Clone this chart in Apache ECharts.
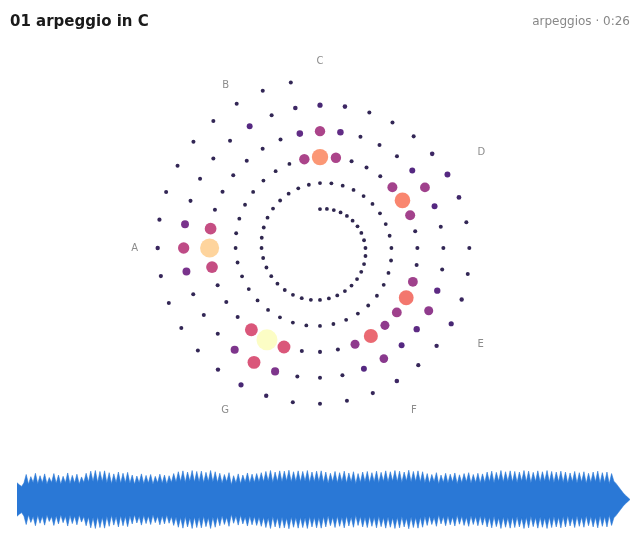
<!DOCTYPE html>
<html><head><meta charset="utf-8">
<script src="https://cdn.jsdelivr.net/npm/echarts/dist/echarts.min.js"></script>
<style>html,body{margin:0;padding:0;background:#fff}#c{width:640px;height:560px}</style>
</head><body><div id="c"></div>
<script>
// pitch-class tick labels (one per semitone, 30 degrees apart)
const noteLabels = ['C','','D','','E','F','','G','','A','','B'];
const binsPerOctave = 36;
// chroma energy per bin, one octave (36 bins, 10 deg each) per line
const chromaOct0 = [0.11,0.11,0.11,0.11,0.11,0.11,0.11,0.11,0.11,0.11,0.11,0.11,0.11,0.11,0.11,0.11,0.11,0.11,0.11,0.11,0.11,0.11,0.11,0.11,0.11,0.11,0.11,0.11,0.11,0.11,0.11,0.11,0.11,0.11,0.11,0.11];
const chromaOct1 = [0.11,0.11,0.11,0.11,0.11,0.11,0.11,0.11,0.11,0.11,0.11,0.11,0.11,0.11,0.11,0.11,0.11,0.11,0.11,0.11,0.11,0.11,0.11,0.11,0.11,0.11,0.11,0.11,0.11,0.11,0.11,0.11,0.11,0.11,0.11,0.45];
const chromaOct2 = [0.76,0.45,0.12,0.12,0.12,0.43,0.72,0.43,0.12,0.12,0.12,0.42,0.68,0.42,0.38,0.64,0.38,0.12,0.12,0.12,0.58,1.0,0.58,0.12,0.12,0.12,0.52,0.9,0.52,0.12,0.12,0.12,0.12,0.12,0.12,0.25];
const chromaOct3 = [0.45,0.25,0.12,0.12,0.12,0.22,0.42,0.22,0.12,0.12,0.12,0.24,0.38,0.24,0.22,0.36,0.22,0.12,0.12,0.12,0.33,0.58,0.33,0.12,0.12,0.12,0.32,0.5,0.32,0.12,0.12,0.12,0.12,0.22,0.12,0.15];
const chromaOct4 = [0.18,0.15,0.12,0.12,0.12,0.15,0.22,0.16,0.12,0.12,0.12,0.14,0.18,0.14,0.13,0.15,0.13,0.12,0.12,0.12,0.14,0.18,0.14,0.12,0.12,0.12,0.13,0.14,0.13,0.12,0.12,0.12,0.12,0.12,0.12,0.12];

// waveform envelope: spike peaks and the troughs between them (amplitude 0..1)
const wavePeaks = [0.82,0.75,0.86,0.78,0.84,0.72,0.85,0.8,0.76,0.87,0.79,0.83,0.74,0.86,
  0.93,0.95,0.92,0.94,
  0.88,0.84,0.9,0.86,0.89,
  0.8,0.77,0.84,0.79,0.82,0.76,0.83,0.8,0.78,0.85,
  0.91,0.94,0.9,0.95,0.92,0.93,0.89,0.95,0.91,
  0.86,0.82,0.88,0.78,0.84,0.8,0.87,0.83,0.85,0.88,
  0.92,0.95,0.9,0.94,0.93,0.96,0.91,0.94,0.92,0.95,0.9,0.93,0.94,
  0.9,0.86,0.92,0.88,0.93,0.87,0.91,0.85,0.9,0.92,0.88,0.93,0.89,
  0.94,0.91,0.95,0.93,0.9,0.96,0.92,0.94,0.91,
  0.85,0.82,0.88,0.8,0.86,0.83,0.87,0.81,0.85,0.88,0.82,0.86,0.84,
  0.9,0.93,0.89,0.95,0.91,0.94,0.92,0.9,0.95,0.93,0.89,0.94,0.91,0.95,0.92,0.9,0.93,
  0.9,0.87,0.92,0.88,0.91,0.86,0.9,0.93,0.88,0.9,0.85];
const waveTroughs = [0.54,0.5,0.56,0.52,0.55,0.51,0.56,0.53,0.5,0.55,0.52,0.54,0.51,0.56,
  0.57,0.59,0.56,0.58,
  0.55,0.52,0.56,0.53,0.55,
  0.53,0.5,0.55,0.52,0.54,0.5,0.55,0.53,0.51,0.56,
  0.57,0.59,0.56,0.6,0.57,0.58,0.55,0.59,0.57,
  0.56,0.53,0.58,0.48,0.54,0.52,0.57,0.54,0.56,0.58,
  0.58,0.6,0.56,0.59,0.58,0.61,0.57,0.59,0.58,0.6,0.56,0.58,0.59,
  0.56,0.53,0.58,0.55,0.58,0.54,0.57,0.52,0.56,0.58,0.55,0.58,0.55,
  0.59,0.57,0.6,0.58,0.56,0.61,0.57,0.59,0.57,
  0.55,0.53,0.58,0.51,0.56,0.54,0.57,0.52,0.55,0.58,0.53,0.56,0.54,
  0.56,0.58,0.55,0.6,0.57,0.59,0.57,0.56,0.6,0.58,0.55,0.59,0.57,0.6,0.57,0.56,0.58,
  0.56,0.53,0.58,0.54,0.57,0.53,0.56,0.58,0.54,0.56,0.52];
const waveStart = [0.55, 0.48, 0.43];
const waveEnd = [0.6, 0.52, 0.42, 0.32, 0.22, 0.14, 0.07, 0];

const magma = ['#000004','#140e36','#3b0f70','#641a80','#8c2981','#b73779','#de4968','#f7705c','#fe9f6d','#fecf92','#fcfdbf'];

const chroma = [].concat(chromaOct0, chromaOct1, chromaOct2, chromaOct3, chromaOct4);
const scatterData = chroma.map((v, i) => [i / binsPerOctave, (i % binsPerOctave) * 360 / binsPerOctave, v]);

const wave = waveStart.slice();
for (let i = 0; i < wavePeaks.length; i++) { wave.push(waveTroughs[i]); wave.push(wavePeaks[i]); }
waveEnd.forEach(v => wave.push(v));
const waveX = wave.map((_, i) => i);
const blue = '#2a78d6';

const chart = echarts.init(document.getElementById('c'), null, {renderer: 'canvas'});
chart.setOption({
  animation: false,
  backgroundColor: '#ffffff',
  textStyle: {fontFamily: 'DejaVu Sans'},
  title: [
    {text: '01 arpeggio in C', left: 5, top: 10,
     textStyle: {fontSize: 15, fontWeight: 'bold', color: '#1a1a1a', fontFamily: 'DejaVu Sans'}},
    {text: 'arpeggios · 0:26', right: 5, top: 11,
     textStyle: {fontSize: 12, fontWeight: 'normal', color: '#888888', fontFamily: 'DejaVu Sans'}}
  ],
  polar: {center: [320, 248], radius: 174},
  angleAxis: {
    type: 'value', min: 0, max: 360, interval: 30, startAngle: 90, clockwise: true,
    axisLine: {show: false}, axisTick: {show: false}, splitLine: {show: false},
    axisLabel: {margin: 8, color: '#8c8c8c', fontSize: 10, fontFamily: 'DejaVu Sans',
      formatter: v => noteLabels[Math.round(v / 30)] || ''}
  },
  radiusAxis: {
    type: 'value', min: -1.5, max: 5.2,
    axisLine: {show: false}, axisTick: {show: false}, axisLabel: {show: false}, splitLine: {show: false}
  },
  grid: {left: 17, right: 10, top: 469, height: 61},
  xAxis: {type: 'category', data: waveX, boundaryGap: false, show: false},
  yAxis: {type: 'value', min: -1, max: 1, show: false},
  visualMap: {
    type: 'continuous', show: false, seriesIndex: 0, dimension: 2, min: 0, max: 1,
    inRange: {color: magma, symbolSize: [1.7, 21]}
  },
  series: [
    {type: 'scatter', coordinateSystem: 'polar', data: scatterData, symbol: 'circle',
     itemStyle: {opacity: 0.9}, silent: true},
    {type: 'line', stack: 'wave', stackStrategy: 'all', data: wave.map(v => -v), symbol: 'none', silent: true,
     lineStyle: {width: 0.6, color: blue}},
    {type: 'line', stack: 'wave', stackStrategy: 'all', data: wave.map(v => 2 * v), symbol: 'none', silent: true,
     lineStyle: {width: 0.6, color: blue}, areaStyle: {color: blue, opacity: 1}}
  ]
});
</script>
</body></html>
